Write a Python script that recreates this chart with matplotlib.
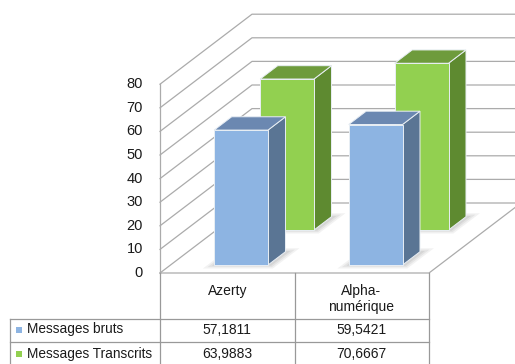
import matplotlib
matplotlib.use("Agg")
import matplotlib.pyplot as plt
from matplotlib.patches import Polygon

categories = ["Azerty", "Alpha-\nnumérique"]
series_names = ["Messages bruts", "Messages Transcrits"]
bruts = [57.1811, 59.5421]
transcrits = [63.9883, 70.6667]
value_labels = [["57,1811", "59,5421"], ["63,9883", "70,6667"]]
y_ticks = [0, 10, 20, 30, 40, 50, 60, 70, 80]

plt.rcParams["font.family"] = ["Liberation Sans", "DejaVu Sans"]

W, H = 515, 364
fig = plt.figure(figsize=(W / 100, H / 100), dpi=100)

# oblique 3d frame: front plane origin and scale in pixels
X0, PX_CAT = 160, 134.5
Y0, PX_VAL = 273, 2.36
DX = 92 / PX_CAT      # depth shift in category units
DY = 70 / PX_VAL      # depth shift in value units

ax = fig.add_axes([0, 0, 1, 1])
ax.set_xlim(-X0 / PX_CAT, (W - X0) / PX_CAT)
ax.set_ylim((Y0 - H) / PX_VAL, Y0 / PX_VAL)
ax.axis("off")

grid_c = "#ababab"
txt_c = "#1a1a1a"
ncat = len(categories)


def proj(x, v, d):
    return (x + d * DX, v + d * DY)


# walls and gridlines
for v in y_ticks:
    p0 = proj(0, v, 0)
    p1 = proj(0, v, 1)
    p2 = proj(ncat, v, 1)
    ax.plot([p0[0], p1[0], p2[0] + 0.2], [p0[1], p1[1], p2[1]],
            color=grid_c, lw=0.9, zorder=1)
ax.plot([0, 0], [0, y_ticks[-1]], color=grid_c, lw=0.9, zorder=1)
# floor edges
f = [proj(0, 0, 0), proj(ncat, 0, 0), proj(ncat, 0, 1)]
ax.plot([f[0][0], f[1][0], f[2][0]], [f[0][1], f[1][1], f[2][1]],
        color=grid_c, lw=0.9, zorder=1)

BAR_W = 0.40
BAR_OFF = 0.325
BAR_D = 0.19

styles = {
    "blue": ("#8db4e2", "#5a7594", "#6b88b1"),
    "green": ("#92d050", "#5e8a30", "#6e9b3c"),
}


def draw_bar(i, value, d0, colors, z):
    front, side, top = colors
    x0 = i + BAR_OFF
    x1 = x0 + BAR_W
    d1 = d0 + BAR_D
    # soft floor shadow
    for k, a in [(0.05, 0.10), (0.03, 0.12), (0.01, 0.15)]:
        sh = [proj(x0 - k, 0, d0 - k), proj(x1 + k + 0.02, 0, d0 - k),
              proj(x1 + k + 0.02, 0, d1 + k), proj(x0 - k, 0, d1 + k)]
        ax.add_patch(Polygon(sh, closed=True, facecolor="#808080",
                             edgecolor="none", alpha=a, zorder=z))
    faces = [
        ([proj(x1, 0, d0), proj(x1, 0, d1), proj(x1, value, d1), proj(x1, value, d0)], side),
        ([proj(x0, value, d0), proj(x1, value, d0), proj(x1, value, d1), proj(x0, value, d1)], top),
        ([proj(x0, 0, d0), proj(x1, 0, d0), proj(x1, value, d0), proj(x0, value, d0)], front),
    ]
    for pts, c in faces:
        ax.add_patch(Polygon(pts, closed=True, facecolor=c,
                             edgecolor="#e8eef4", lw=0.7, zorder=z + 0.1))


for i, v in enumerate(transcrits):
    draw_bar(i, v, 0.614, styles["green"], 2)
for i, v in enumerate(bruts):
    draw_bar(i, v, 0.114, styles["blue"], 3)

for v in y_ticks:
    ax.text(-17 / PX_CAT, v, str(v), ha="right", va="center",
            fontsize=10.5, color=txt_c)

# data table underneath, laid out in pixels
tx = fig.add_axes([0, 0, 1, 1])
tx.set_xlim(0, W)
tx.set_ylim(H, 0)
tx.axis("off")
tx.patch.set_alpha(0)

col_x = [X0, X0 + PX_CAT, X0 + 2 * PX_CAT - 0.5]
tc = "#999999"
for x in col_x:
    tx.plot([x, x], [Y0, H], color=tc, lw=0.9)
tx.plot([10, 10], [319, H], color=tc, lw=0.9)
for y in [319, 342]:
    tx.plot([10, col_x[-1]], [y, y], color=tc, lw=0.9)

head_y = [291, 299]
for j, cat in enumerate(categories):
    cx = (col_x[j] + col_x[j + 1]) / 2
    tx.text(cx, head_y[j], cat, ha="center", va="center", fontsize=10,
            color=txt_c, linespacing=1.2)

row_y = [329.5, 354]
legend_c = [styles["blue"][0], styles["green"][0]]
for r, name in enumerate(series_names):
    tx.add_patch(Polygon([(16, row_y[r] - 3), (22, row_y[r] - 3),
                          (22, row_y[r] + 3), (16, row_y[r] + 3)],
                         closed=True, facecolor=legend_c[r], edgecolor="none"))
    tx.text(27, row_y[r], name, ha="left", va="center", fontsize=9.8,
            color=txt_c)
    for j in range(ncat):
        cx = (col_x[j] + col_x[j + 1]) / 2
        tx.text(cx, row_y[r], value_labels[r][j], ha="center", va="center",
                fontsize=10, color=txt_c)

fig.savefig("out.png", dpi=100, facecolor="white")
